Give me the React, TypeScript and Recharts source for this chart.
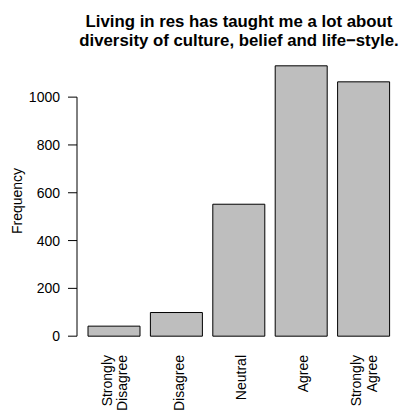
import { Bar, BarChart, ReferenceLine, XAxis, YAxis } from "recharts";

const categories = ["Strongly Disagree", "Disagree", "Neutral", "Agree", "Strongly Agree"];
const frequencies = [42, 99, 552, 1131, 1064];
const yTicks = [0, 200, 400, 600, 800, 1000];
const titleLines = ["Living in res has taught me a lot about", "diversity of culture, belief and life−style."];

const data = categories.map((name, i) => ({ name, value: frequencies[i] }));

// R-style range: pad 4% beyond [0, max]
const maxVal = Math.max(...frequencies);
const yDomain = [-maxVal * 0.04, maxVal * 1.04];

const font = "'Liberation Sans', Arial, Helvetica, sans-serif";

function CategoryTick({ x, y, payload }: any) {
  const words = String(payload.value).split(" ");
  const lineGap = 15.5;
  const first = 7 - (words.length - 1) * 9.5;
  return (
    <g transform={`translate(${x},${y})`}>
      <text transform="rotate(-90)" textAnchor="end" fontFamily={font} fontSize={14} fill="#000">
        {words.map((w, i) => (
          <tspan key={w} x={0} y={first + i * lineGap}>
            {w}
          </tspan>
        ))}
      </text>
    </g>
  );
}

export default function App() {
  return (
    <div style={{ position: "absolute", left: 0, top: 0, width: 404, height: 412, background: "#fff" }}>
      <BarChart width={404} height={412} data={data} margin={{ top: 55, right: 2, bottom: 0, left: 0 }}>
        <XAxis
          dataKey="name"
          xAxisId="cat"
          axisLine={false}
          tickLine={false}
          tickSize={0}
          tickMargin={8}
          height={65}
          interval={0}
          padding={{ left: 6, right: 7 }}
          tick={<CategoryTick />}
        />
        <XAxis xAxisId="num" type="number" domain={[0, 1]} hide />
        <YAxis
          type="number"
          domain={yDomain}
          ticks={yTicks}
          width={77}
          axisLine={false}
          tickSize={9}
          tickMargin={8}
          tickLine={{ stroke: "#000" }}
          tick={{ fontFamily: font, fontSize: 14, fill: "#000" }}
          allowDataOverflow
        />
        <ReferenceLine
          xAxisId="num"
          segment={[
            { x: 0, y: 0 },
            { x: 0, y: 1000 },
          ]}
          stroke="#000"
          ifOverflow="visible"
        />
        <Bar
          xAxisId="cat"
          dataKey="value"
          barSize={52}
          fill="#bebebe"
          stroke="#000"
          strokeWidth={1}
          isAnimationActive={false}
        />
      </BarChart>
      <svg width={404} height={412} style={{ position: "absolute", left: 0, top: 0, pointerEvents: "none" }}>
        <text x={239} textAnchor="middle" fontFamily={font} fontSize={16.8} fontWeight="bold" fill="#000">
          <tspan x={239} y={26.5}>{titleLines[0]}</tspan>
          <tspan x={239} y={45.5}>{titleLines[1]}</tspan>
        </text>
        <text
          transform="translate(21.5,201) rotate(-90)"
          textAnchor="middle"
          fontFamily={font}
          fontSize={14}
          fill="#000"
        >
          Frequency
        </text>
      </svg>
    </div>
  );
}
